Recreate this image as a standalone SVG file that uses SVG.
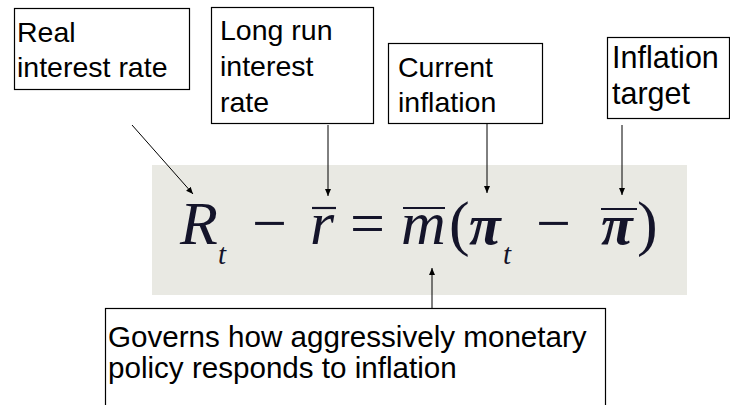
<svg xmlns="http://www.w3.org/2000/svg" width="730" height="405" viewBox="0 0 730 405">
<defs>
<style>
.box{fill:#fff;stroke:#000;stroke-width:1.2}
.lbl{font-family:"Liberation Sans",Arial,sans-serif;font-size:28.5px;fill:#000}
.big{font-size:30.5px}
.gov{font-size:29.6px}
.eq{font-family:"Liberation Serif","Times New Roman",serif;font-size:62px;fill:#14142a;font-style:italic}
.up{font-style:normal}
.pi{font-weight:bold;font-size:58px}
.sub{font-size:29px}
.bar{stroke:#14142a;stroke-width:2.2}
.conn{stroke:#000;stroke-width:1;fill:none;marker-end:url(#ah)}
</style>
<marker id="ah" markerWidth="8" markerHeight="8" refX="7" refY="4" orient="auto" markerUnits="userSpaceOnUse">
<path d="M0,1 L7,4 L0,7 z" fill="#000"/>
</marker>
</defs>
<rect id="eqbg" x="152" y="165" width="535" height="130" fill="#e9e9e3"/>
<g id="equation">
<text class="eq" x="180" y="244">R</text>
<text class="eq sub" x="218" y="264">t</text>
<text class="eq up" x="252" y="244">−</text>
<text class="eq" x="310" y="244">r</text>
<line class="bar" x1="312" y1="208" x2="336" y2="208"/>
<text class="eq up" x="350" y="244">=</text>
<text class="eq" x="401" y="244">m</text>
<line class="bar" x1="403" y1="208" x2="445" y2="208"/>
<text class="eq up" x="449" y="244">(</text>
<text class="eq pi" x="469" y="244">π</text>
<text class="eq sub" x="503" y="264">t</text>
<text class="eq up" x="536" y="244">−</text>
<text class="eq pi" x="601" y="244">π</text>
<line class="bar" x1="601" y1="209" x2="637" y2="209"/>
<text class="eq up" x="637" y="244">)</text>
</g>
<g id="connectors">
<line class="conn" x1="132" y1="125" x2="193" y2="194"/>
<line class="conn" x1="328" y1="125" x2="328" y2="196"/>
<line class="conn" x1="487" y1="123" x2="487" y2="193"/>
<line class="conn" x1="622" y1="125" x2="622" y2="195"/>
<line class="conn" x1="432" y1="308" x2="432" y2="268"/>
</g>
<g id="real-interest-rate">
<rect class="box" x="14.5" y="8.5" width="175" height="81"/>
<text class="lbl" x="17" y="42">Real</text>
<text class="lbl" x="17" y="77">interest rate</text>
</g>
<g id="long-run-interest-rate">
<rect class="box" x="211.5" y="7.5" width="162" height="116"/>
<text class="lbl" x="220" y="40">Long run</text>
<text class="lbl" x="220" y="76">interest</text>
<text class="lbl" x="220" y="112">rate</text>
</g>
<g id="current-inflation">
<rect class="box" x="388.5" y="43.5" width="154" height="80"/>
<text class="lbl" x="398" y="77">Current</text>
<text class="lbl" x="398" y="112">inflation</text>
</g>
<g id="inflation-target">
<rect class="box" x="607.5" y="37.5" width="122" height="81"/>
<text class="lbl big" x="612" y="68">Inflation</text>
<text class="lbl big" x="612" y="104">target</text>
</g>
<g id="governs">
<rect class="box" x="105.5" y="308.5" width="500" height="110"/>
<text class="lbl gov" x="108" y="347">Governs how aggressively monetary</text>
<text class="lbl gov" x="108" y="378">policy responds to inflation</text>
</g>
</svg>
